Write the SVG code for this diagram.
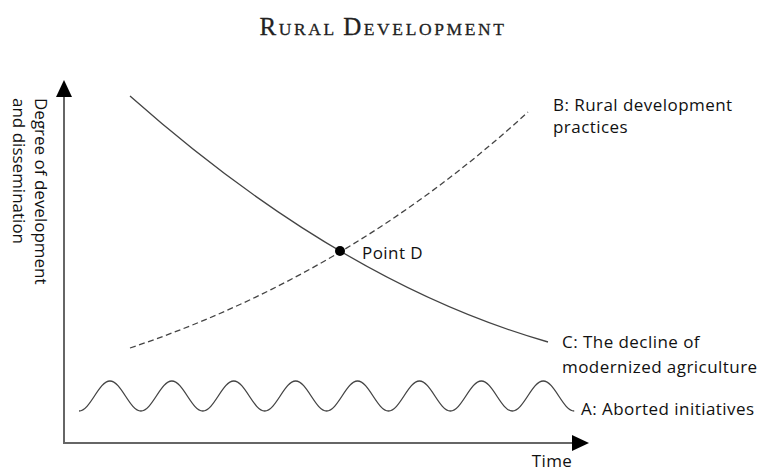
<svg xmlns="http://www.w3.org/2000/svg" width="763" height="471" viewBox="0 0 763 471">
<style>
.lbl{font-family:"Open Sans","Noto Sans","Liberation Sans",sans-serif;font-size:17px;letter-spacing:0.45px;fill:#111}
.ylbl{letter-spacing:0}
.title{font-family:"Liberation Serif","DejaVu Serif",serif;fill:#222;letter-spacing:2.6px;stroke:#222;stroke-width:0.3}
.axis{stroke:#666;stroke-width:2;fill:none}
.curve{stroke:#444;stroke-width:1.3;fill:none}
.dash{stroke-dasharray:6 3.5}
</style>
<rect width="763" height="471" fill="#fff"/>
<g id="title">
<text class="title" x="383" y="35" text-anchor="middle"><tspan font-size="25">R</tspan><tspan font-size="17.5">URAL </tspan><tspan font-size="25">D</tspan><tspan font-size="17.5">EVELOPMENT</tspan></text>
</g>
<g id="axes">
<path class="axis" d="M64,95 V443 H574"/>
<path d="M64,80 L56,97 L72,97 Z" fill="#000"/>
<path d="M589,443 L572,435 L572,451 Z" fill="#000"/>
<text class="lbl ylbl" transform="translate(35,98) rotate(90)">Degree of development</text>
<text class="lbl ylbl" transform="translate(13,98) rotate(90)">and dissemination</text>
<text class="lbl" x="552" y="467" text-anchor="middle">Time</text>
</g>
<g id="connectors">
<path id="curve-C" class="curve" d="M130,96 Q341,283 548,342"/>
<path id="curve-B" class="curve dash" d="M130,348 Q351,274 528,112"/>
<path id="curve-A" class="curve" d="M79,411 C90.27,411 98.68,381 109.95,381 S129.63,411 140.9,411 S160.58,381 171.85,381 S191.53,411 202.8,411 S222.48,381 233.75,381 S253.43,411 264.7,411 S284.38,381 295.65,381 S315.33,411 326.6,411 S346.28,381 357.55,381 S377.23,411 388.5,411 S408.18,381 419.45,381 S439.13,411 450.4,411 S470.08,381 481.35,381 S501.03,411 512.3,411 S531.98,381 543.25,381 S562.93,411 574.2,411"/>
</g>
<g id="point-D">
<circle cx="340" cy="251" r="5" fill="#000"/>
<text class="lbl" x="362" y="259">Point D</text>
</g>
<g id="label-B">
<text class="lbl" x="553" y="111">B: Rural development</text>
<text class="lbl" x="553" y="133">practices</text>
</g>
<g id="label-C">
<text class="lbl" x="562" y="348">C: The decline of</text>
<text class="lbl" x="562" y="373">modernized agriculture</text>
</g>
<g id="label-A">
<text class="lbl" x="581" y="415">A: Aborted initiatives</text>
</g>
</svg>
